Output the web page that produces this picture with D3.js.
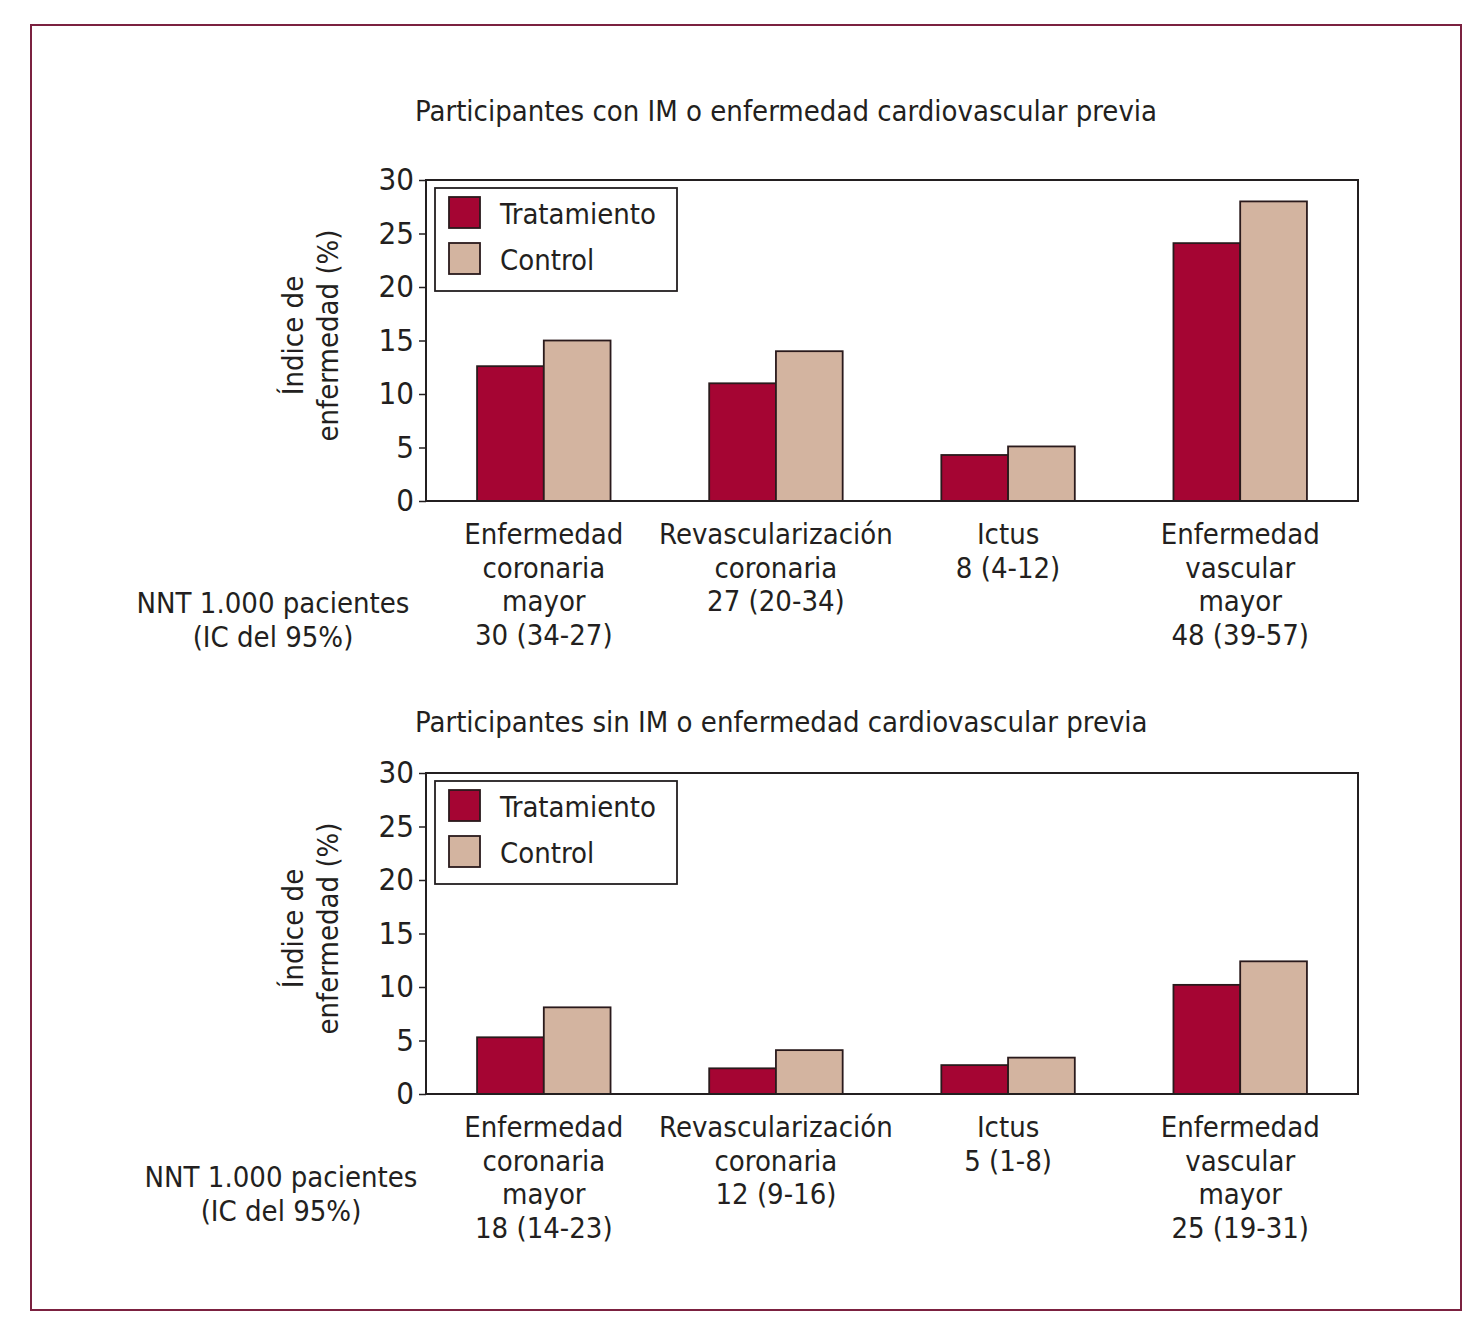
<!DOCTYPE html>
<html>
<head>
<meta charset="utf-8">
<script src="https://cdn.jsdelivr.net/npm/d3@7"></script>
<style>
  body { margin: 0; background: #fff; }
  text { font-family: "Liberation Sans Narrow", "DejaVu Sans Condensed", "Arial Narrow", sans-serif; fill: #231f20; }
</style>
</head>
<body>
<div id="chart"></div>
<script>
// Data:
var series = ["Tratamiento", "Control"];
var categories = ["Enfermedad coronaria mayor", "Revascularización coronaria", "Ictus", "Enfermedad vascular mayor"];
var categoryLines = [["Enfermedad", "coronaria", "mayor"], ["Revascularización", "coronaria"], ["Ictus"], ["Enfermedad", "vascular", "mayor"]];
var yTicks = [0, 5, 10, 15, 20, 25, 30];

var tratamientoPrevia = [12.6, 11.0, 4.3, 24.1];
var controlPrevia = [15.0, 14.0, 5.1, 28.0];
var nntPrevia = ["30 (34-27)", "27 (20-34)", "8 (4-12)", "48 (39-57)"];

var tratamientoSin = [5.3, 2.4, 2.7, 10.2];
var controlSin = [8.1, 4.1, 3.4, 12.4];
var nntSin = ["18 (14-23)", "12 (9-16)", "5 (1-8)", "25 (19-31)"];

// Constants:
var W = 1483, H = 1329;
var colors = { "Tratamiento": "#a50533", "Control": "#d3b4a0" };
var plotLeft = 426, plotWidth = 932, plotHeight = 321;

var svg = d3.select("#chart").append("svg")
  .attr("width", W)
  .attr("height", H);

// Outer frame
svg.append("rect")
  .attr("x", 31).attr("y", 25)
  .attr("width", 1430).attr("height", 1285)
  .attr("fill", "none")
  .attr("stroke", "#7b2140")
  .attr("stroke-width", 2);

var x = d3.scaleBand()
  .domain(categories)
  .range([0, plotWidth])
  .paddingInner(0.425)
  .paddingOuter(0.22);

var xSub = d3.scaleBand()
  .domain(series)
  .range([0, x.bandwidth()]);

var y = d3.scaleLinear()
  .domain([0, 30])
  .range([plotHeight, 0]);

function drawPanel(opts) {
  var g = svg.append("g")
    .attr("transform", "translate(" + plotLeft + "," + opts.top + ")");

  // Title
  svg.append("text")
    .attr("x", 415)
    .attr("y", opts.titleY)
    .style("font-size", "29px")
    .text(opts.title);

  // Bars
  var rows = categories.map(function(c, i) {
    return { cat: c, values: [
      { key: "Tratamiento", value: opts.trat[i] },
      { key: "Control", value: opts.control[i] }
    ] };
  });

  var groups = g.selectAll("g.cat")
    .data(rows)
    .enter()
    .append("g")
    .attr("class", "cat")
    .attr("transform", function(d) { return "translate(" + x(d.cat) + ",0)"; });

  groups.selectAll("rect")
    .data(function(d) { return d.values; })
    .enter()
    .append("rect")
    .attr("x", function(d) { return xSub(d.key); })
    .attr("y", function(d) { return y(d.value); })
    .attr("width", xSub.bandwidth())
    .attr("height", function(d) { return plotHeight - y(d.value); })
    .attr("fill", function(d) { return colors[d.key]; })
    .attr("stroke", "#2a1a1c")
    .attr("stroke-width", 1.8);

  // Plot box
  g.append("rect")
    .attr("width", plotWidth)
    .attr("height", plotHeight)
    .attr("fill", "none")
    .attr("stroke", "#231f20")
    .attr("stroke-width", 2);

  // Y axis
  var yAxis = g.append("g")
    .call(d3.axisLeft(y).tickValues(yTicks).tickSize(7).tickPadding(5));
  yAxis.select(".domain").remove();
  yAxis.selectAll(".tick line").attr("stroke", "#231f20").attr("stroke-width", 1.5);
  yAxis.selectAll(".tick text")
    .style("font-size", "31px")
    .style("font-family", "\"Liberation Sans Narrow\", \"DejaVu Sans Condensed\", sans-serif")
    .attr("fill", "#231f20");

  // Y label
  var yl = svg.append("text")
    .attr("transform", "translate(0," + (opts.top + plotHeight / 2 - 5) + ") rotate(-90)")
    .attr("text-anchor", "middle")
    .style("font-size", "29px");
  yl.append("tspan").attr("x", 0).attr("y", 303).text("Índice de");
  yl.append("tspan").attr("x", 0).attr("y", 338).text("enfermedad (%)");

  // Category labels with NNT
  var labels = g.selectAll("text.cat")
    .data(rows)
    .enter()
    .append("text")
    .attr("class", "cat")
    .attr("text-anchor", "middle")
    .attr("transform", function(d) { return "translate(" + (x(d.cat) + x.bandwidth() / 2) + "," + (plotHeight + 43) + ")"; })
    .style("font-size", "29px");

  labels.each(function(d, i) {
    var lines = categoryLines[i].concat([opts.nnt[i]]);
    d3.select(this).selectAll("tspan")
      .data(lines)
      .enter()
      .append("tspan")
      .attr("x", 0)
      .attr("y", function(l, j) { return j * 33.7; })
      .text(function(l) { return l; });
  });

  // NNT header
  var nt = svg.append("text")
    .attr("text-anchor", "middle")
    .style("font-size", "29px");
  nt.append("tspan").attr("x", opts.nntX).attr("y", opts.nntY).text("NNT 1.000 pacientes");
  nt.append("tspan").attr("x", opts.nntX).attr("y", opts.nntY + 33.7).text("(IC del 95%)");

  // Legend
  var lg = svg.append("g").attr("transform", "translate(435," + (opts.top + 8) + ")");
  lg.append("rect")
    .attr("width", 242).attr("height", 103)
    .attr("fill", "#fff")
    .attr("stroke", "#231f20")
    .attr("stroke-width", 1.8);
  var items = lg.selectAll("g.item")
    .data(series)
    .enter()
    .append("g")
    .attr("class", "item")
    .attr("transform", function(d, i) { return "translate(14," + (9 + i * 46) + ")"; });
  items.append("rect")
    .attr("width", 31).attr("height", 31)
    .attr("fill", function(d) { return colors[d]; })
    .attr("stroke", "#2a1a1c")
    .attr("stroke-width", 1.8);
  items.append("text")
    .attr("x", 51)
    .attr("y", 27)
    .style("font-size", "29px")
    .text(function(d) { return d; });
}

drawPanel({
  title: "Participantes con IM o enfermedad cardiovascular previa",
  titleY: 121,
  top: 180,
  trat: tratamientoPrevia,
  control: controlPrevia,
  nnt: nntPrevia,
  nntX: 273,
  nntY: 613
});

drawPanel({
  title: "Participantes sin IM o enfermedad cardiovascular previa",
  titleY: 732,
  top: 773,
  trat: tratamientoSin,
  control: controlSin,
  nnt: nntSin,
  nntX: 281,
  nntY: 1187
});
</script>
</body>
</html>
